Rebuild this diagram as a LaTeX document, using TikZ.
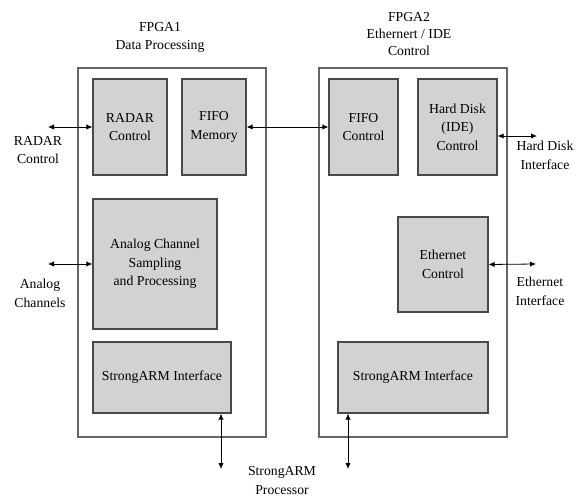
\documentclass[tikz,border=0pt]{standalone}
\usepackage{fontspec}
\setmainfont{Liberation Serif}
\usepackage{xcolor}
\usepackage{tikz}
\usetikzlibrary{arrows.meta}
\definecolor{blockfill}{HTML}{D2D2D2}
\definecolor{blockline}{HTML}{4A4A4A}
\definecolor{frameline}{HTML}{666666}
\newcommand{\DiagFont}{\fontsize{10.3}{14}\selectfont}

\begin{document}
\begin{tikzpicture}[x=0.75pt,y=-0.75pt,
    frame/.style={draw=frameline,line width=0.8pt,fill=white,minimum width=#1*0.75pt},
    block/.style={draw=blockline,line width=0.9pt,fill=blockfill,align=center,font=\DiagFont},
    lbl/.style={align=center,font=\DiagFont},
    link/.style={line width=0.6pt,{Latex[length=4.5pt,width=4pt]}-{Latex[length=4.5pt,width=4pt]}}]
  \useasboundingbox (0,0) rectangle (585,498);
  % FPGA frames
  \node[frame=188,minimum height=369*0.75pt] (fpgaA) at (172,252.5) {};
  \node[frame=188,minimum height=369*0.75pt] (fpgaB) at (413,252.5) {};
  \node[lbl] (titleA) at (160,37.5) {FPGA1\\Data Processing};
  \node[lbl,font=\fontsize{10.3}{13}\selectfont] (titleB) at (409,34) {FPGA2\\Ethernert / IDE\\Control};
  % FPGA1 blocks
  \node[block,minimum width=74*0.75pt,minimum height=96*0.75pt] (radar) at (130,127) {RADAR\\Control};
  \node[block,minimum width=64*0.75pt,minimum height=96*0.75pt] (fifomem) at (214,127) {FIFO\\Memory};
  \node[block,minimum width=124*0.75pt,minimum height=130*0.75pt] (analog) at (155,264) {Analog Channel\\Sampling\\and Processing};
  \node[block,minimum width=138*0.75pt,minimum height=71*0.75pt] (armA) at (162,377.5) {StrongARM Interface};
  % FPGA2 blocks
  \node[block,minimum width=69*0.75pt,minimum height=96*0.75pt] (fifoctl) at (363.5,127) {FIFO\\Control};
  \node[block,minimum width=79*0.75pt,minimum height=96*0.75pt] (hdd) at (457.5,127) {Hard Disk\\(IDE)\\Control};
  \node[block,minimum width=90*0.75pt,minimum height=95*0.75pt] (eth) at (443,264.5) {Ethernet\\Control};
  \node[block,minimum width=150*0.75pt,minimum height=71*0.75pt] (armB) at (413,377.5) {StrongARM Interface};
  % outside labels
  \node[lbl] (radarlbl) at (38,150) {RADAR\\Control};
  \node[lbl] (analoglbl) at (40,293) {Analog\\Channels};
  \node[lbl] (hddlbl) at (545,155) {Hard Disk\\Interface};
  \node[lbl] (ethlbl) at (540,291) {Ethernet\\Interface};
  \node[lbl] (armlbl) at (282,480.5) {StrongARM\\Processor};
  % free ends
  \coordinate (radarend) at (48,127);
  \coordinate (analogend) at (48,264);
  \coordinate (hddend) at (537,136);
  \coordinate (ethend) at (536,264);
  \coordinate (armAend) at (221,469);
  \coordinate (armBend) at (348,469);
  % connectors
  \draw[link] (radarend) -- (radar.west);
  \draw[link] (analogend) -- (analog.west);
  \draw[link] (fifomem.east) -- (fifoctl.west);
  \draw[link] (hdd.east |- hddend) -- (hddend);
  \draw[link] (eth.east) -- (ethend);
  \draw[link] (armA.south -| armAend) -- (armAend);
  \draw[link] (armB.south -| armBend) -- (armBend);
\end{tikzpicture}
\end{document}
